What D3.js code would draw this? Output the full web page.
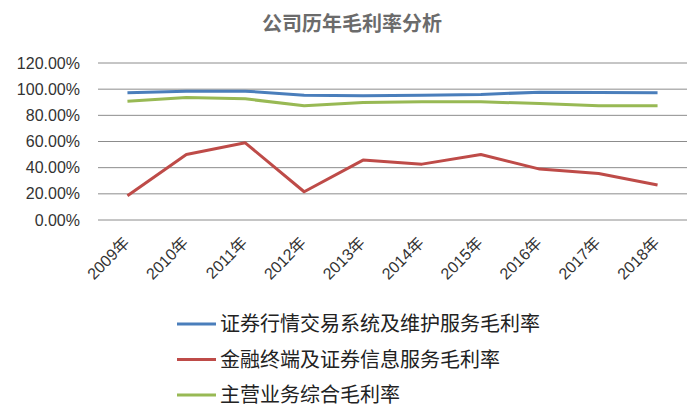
<!DOCTYPE html>
<html>
<head>
<meta charset="utf-8">
<script src="https://cdn.jsdelivr.net/npm/d3@7"></script>
<style>
  body { margin: 0; background: #fff; }
  svg text { font-family: "Liberation Sans", Arial, "Noto Sans CJK SC", sans-serif; }
</style>
</head>
<body>
<div id="chart"></div>
<script>
var years = ["2009年", "2010年", "2011年", "2012年", "2013年", "2014年", "2015年", "2016年", "2017年", "2018年"];
var seriesNames = ["证券行情交易系统及维护服务毛利率", "金融终端及证券信息服务毛利率", "主营业务综合毛利率"];
var systemRate = [97.2, 98.5, 98.5, 95.4, 94.9, 95.4, 96.0, 97.7, 97.5, 97.2];
var terminalRate = [18.6, 50.1, 59.0, 21.6, 45.8, 42.7, 50.1, 38.9, 35.6, 26.7];
var totalRate = [90.8, 93.6, 92.6, 87.3, 89.8, 90.3, 90.3, 89.1, 87.3, 87.3];
var yTicks = [0, 20, 40, 60, 80, 100, 120];

var colors = ["#4a7ebb", "#be4b48", "#98b954"];
var series = [systemRate, terminalRate, totalRate];

var svg = d3.select("#chart")
            .append("svg")
              .attr("width", 700)
              .attr("height", 417);

var margin = {top: 63, left: 98, right: 13, bottom: 197},
    width = 700 - margin.left - margin.right,
    height = 417 - margin.top - margin.bottom;

var chart = svg.append("g")
               .attr("transform", "translate(" + margin.left + "," + margin.top + ")");

// title
svg.append("text")
   .attr("x", 352)
   .attr("y", 31)
   .attr("text-anchor", "middle")
   .attr("font-size", 20)
   .attr("font-weight", "bold")
   .attr("fill", "#6b6b6b")
   .style("font-family", "'Noto Sans CJK SC', sans-serif")
   .text("公司历年毛利率分析");

// scales
var xScale = d3.scaleBand()
               .domain(years)
               .range([0, width]);

var yScale = d3.scaleLinear()
               .domain([0, 120])
               .range([height, 0]);

// grid
chart.selectAll(".grid")
  .data(yTicks)
.enter().append("line")
  .attr("class", "grid")
  .attr("x1", 0)
  .attr("x2", width)
  .attr("y1", function(d) { return yScale(d); })
  .attr("y2", function(d) { return yScale(d); })
  .attr("stroke", "#8c8c8c")
  .attr("stroke-width", 1);

// y axis
var yAxis = d3.axisLeft(yScale)
              .tickValues(yTicks)
              .tickSize(0)
              .tickPadding(18)
              .tickFormat(function(d) { return d.toFixed(2) + "%"; });
var yG = chart.append("g").call(yAxis);
yG.select(".domain").remove();
yG.selectAll("text")
  .attr("font-size", 16)
  .attr("fill", "#333")
  .style("font-family", "'Liberation Sans', Arial, sans-serif");

// x axis labels
var xAxis = d3.axisBottom(xScale).tickSize(0).tickPadding(0);
var xG = chart.append("g")
              .attr("transform", "translate(0," + height + ")")
              .call(xAxis);
xG.select(".domain").remove();
xG.selectAll("text")
  .attr("font-size", 16)
  .attr("fill", "#333")
  .attr("text-anchor", "end")
  .attr("dy", 0)
  .attr("transform", "translate(3,24) rotate(-45)");

// lines
var line = d3.line()
             .x(function(d, i) { return xScale(years[i]) + xScale.bandwidth() / 2; })
             .y(function(d) { return yScale(d); });

chart.selectAll(".series")
  .data(series)
.enter().append("path")
  .attr("class", "series")
  .attr("d", line)
  .attr("fill", "none")
  .attr("stroke", function(d, i) { return colors[i]; })
  .attr("stroke-width", 3)
  .attr("stroke-linejoin", "round");

// legend
var legend = svg.selectAll(".legend")
  .data(seriesNames)
.enter().append("g")
  .attr("class", "legend")
  .attr("transform", function(d, i) { return "translate(177," + (324 + i * 35.5) + ")"; });

legend.append("line")
  .attr("x1", 0)
  .attr("x2", 39)
  .attr("stroke", function(d, i) { return colors[i]; })
  .attr("stroke-width", 3);

legend.append("text")
  .attr("x", 43)
  .attr("y", 0)
  .attr("dy", "0.35em")
  .attr("font-size", 20)
  .attr("fill", "#222")
  .style("font-family", "'Noto Sans CJK SC', sans-serif")
  .text(function(d) { return d; });
</script>
</body>
</html>
